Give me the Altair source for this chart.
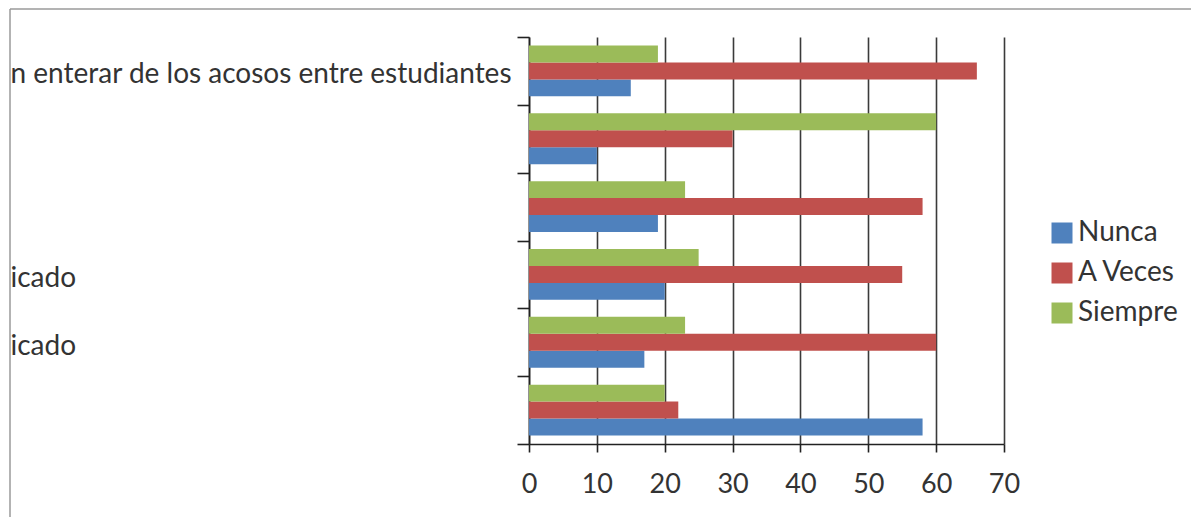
import altair as alt
import pandas as pd

cat_ids = ["c1", "c2", "c3", "c4", "c5", "c6"]
cat_labels = ["n enterar de los acosos entre estudiantes", "", "", "icado", "icado", ""]
series = ["Nunca", "A Veces", "Siempre"]
colors = ["#4F81BD", "#C0504D", "#9BBB59"]
nunca = [15, 10, 19, 20, 17, 58]
a_veces = [66, 30, 58, 55, 60, 22]
siempre = [19, 60, 23, 25, 23, 20]
x_ticks = [0, 10, 20, 30, 40, 50, 60, 70]

rows = []
for i, c in enumerate(cat_ids):
    for s, vals in zip(series, [nunca, a_veces, siempre]):
        rows.append({"cat": c, "serie": s, "valor": vals[i]})
df = pd.DataFrame(rows)

label_expr = ""
for c, l in zip(cat_ids, cat_labels):
    label_expr += f"datum.value == '{c}' ? '{l}' : "
label_expr += "''"

FONT = "Lato"
FS = 28

bars = alt.Chart(df).mark_bar().encode(
    x=alt.X("valor:Q", scale=alt.Scale(domain=[0, 70], nice=False),
            axis=alt.Axis(values=x_ticks, title=None, grid=True, gridColor="#3a3a3a",
                          gridWidth=1.6, tickSize=8, tickColor="#222", tickWidth=1.6,
                          domainColor="#222", domainWidth=1.6, labelFontSize=FS - 1,
                          labelFont=FONT, labelColor="#333", labelPadding=19,
                          labelFlush=False)),
    y=alt.Y("cat:N", sort=cat_ids, scale=alt.Scale(paddingInner=0, paddingOuter=0),
            axis=alt.Axis(title=None, tickBand="extent", tickSize=12, tickColor="#222",
                          tickWidth=1.6, domainColor="#222", domainWidth=1.6,
                          labelExpr=label_expr, labelAlign="left", labelBaseline="middle",
                          labelPadding=507, labelOffset=4, labelFontSize=FS, labelFont=FONT,
                          labelColor="#333", labelLimit=0)),
    yOffset=alt.YOffset("serie:N", sort=["Siempre", "A Veces", "Nunca"],
                        scale=alt.Scale(paddingInner=0, paddingOuter=0.5)),
    color=alt.Color("serie:N", scale=alt.Scale(domain=series, range=colors),
                    legend=alt.Legend(title=None, orient="none", legendX=519, legendY=182,
                                      symbolType="square", symbolSize=441,
                                      symbolStrokeWidth=0, labelFontSize=FS,
                                      labelFont=FONT, labelColor="#333",
                                      rowPadding=12, labelOffset=2)),
)

one = pd.DataFrame({"a": [0]})
border_top = alt.Chart(one).mark_rule(color="#9a9a9a", strokeWidth=1.5).encode(
    x=alt.value(-519), x2=alt.value(670), y=alt.value(-28))
border_left = alt.Chart(one).mark_rule(color="#9a9a9a", strokeWidth=1.5).encode(
    x=alt.value(-519), y=alt.value(-28), y2=alt.value(488))

chart = alt.layer(bars, border_top, border_left).properties(
    width=475, height=407,
    autosize=alt.AutoSizeParams(type="none"),
    padding={"left": 521, "top": 29, "right": 187, "bottom": 73},
).configure_view(stroke=None)

chart.save("out.html", embed_options={"renderer": "svg", "actions": False})
